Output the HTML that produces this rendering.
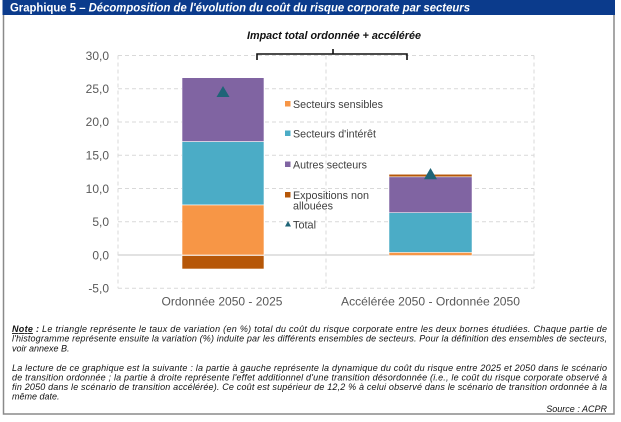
<!DOCTYPE html>
<html><head><meta charset="utf-8">
<style>
html,body{margin:0;padding:0;background:#fff;}
svg{display:block;}
text{font-family:"Liberation Sans",Arial,sans-serif;}
</style></head>
<body>
<svg width="621" height="422" viewBox="0 0 621 422" xmlns="http://www.w3.org/2000/svg">
<rect x="0" y="0" width="621" height="422" fill="#fff"/>
<!-- outer frame -->
<path d="M3.5 14 V414 H614 V14" fill="none" stroke="#8a8a8a" stroke-width="1.5"/>
<!-- header -->
<rect x="2.5" y="0" width="612.5" height="15" fill="#0b3b8c"/>
<text x="10" y="11.5" font-size="12" font-weight="bold" fill="#fff" textLength="460" lengthAdjust="spacingAndGlyphs">Graphique 5 – <tspan font-style="italic">Décomposition de l'évolution du coût du risque corporate par secteurs</tspan></text>

<!-- chart title -->
<text x="334" y="39" font-size="11" font-weight="bold" font-style="italic" fill="#111" text-anchor="middle" textLength="174" lengthAdjust="spacingAndGlyphs">Impact total ordonnée + accélérée</text>

<!-- gridlines -->
<g stroke="#d9d9d9" stroke-width="1" stroke-dasharray="4,3" fill="none">
<line x1="118" y1="55.5" x2="534" y2="55.5"/>
<line x1="118" y1="88.75" x2="534" y2="88.75"/>
<line x1="118" y1="122" x2="534" y2="122"/>
<line x1="118" y1="155.25" x2="534" y2="155.25"/>
<line x1="118" y1="188.5" x2="534" y2="188.5"/>
<line x1="118" y1="221.75" x2="534" y2="221.75"/>
<line x1="118" y1="288.25" x2="534" y2="288.25"/>
<line x1="118" y1="55.5" x2="118" y2="288.25"/>
<line x1="326" y1="55.5" x2="326" y2="288.25"/>
<line x1="534" y1="55.5" x2="534" y2="288.25"/>
</g>
<line x1="118" y1="255" x2="534" y2="255" stroke="#d9d9d9" stroke-width="1.5"/>

<!-- bracket -->
<path d="M257 60 V54 H333 V49 M333 54 H407 V60" fill="none" stroke="#111" stroke-width="1.6"/>

<!-- y labels -->
<g font-size="12" fill="#595959" text-anchor="end">
<text x="109" y="60">30,0</text>
<text x="109" y="93">25,0</text>
<text x="109" y="126">20,0</text>
<text x="109" y="159.5">15,0</text>
<text x="109" y="193">10,0</text>
<text x="109" y="226">5,0</text>
<text x="109" y="259.5">0,0</text>
<text x="109" y="292.5">-5,0</text>
</g>

<!-- bar 1 -->
<g stroke="#fff" stroke-width="0.6">
<rect x="182" y="77.7" width="82" height="64" fill="#8064A2"/>
<rect x="182" y="141.7" width="82" height="63.3" fill="#4BACC6"/>
<rect x="182" y="205" width="82" height="50" fill="#F79646"/>
<rect x="182" y="255.5" width="82" height="13.5" fill="#B65708"/>
</g>
<polygon points="223,86 229.5,97 216.5,97" fill="#1F6477"/>

<!-- bar 2 -->
<g stroke="#fff" stroke-width="0.5">
<rect x="389" y="174.3" width="83" height="2.6" fill="#B65708"/>
<rect x="389" y="176.9" width="83" height="35.8" fill="#8064A2"/>
<rect x="389" y="212.7" width="83" height="39.8" fill="#4BACC6"/>
<rect x="389" y="252.5" width="83" height="3" fill="#F79646"/>
</g>
<polygon points="430.5,168 437,179.3 424,179.3" fill="#1F6477"/>

<!-- legend -->
<rect x="285" y="101" width="5.5" height="5.5" fill="#F79646"/>
<rect x="285" y="130.5" width="5.5" height="5.5" fill="#4BACC6"/>
<rect x="285" y="161.5" width="5.5" height="5.5" fill="#8064A2"/>
<rect x="285" y="192" width="5.5" height="5.5" fill="#B65708"/>
<polygon points="288,221 291,226.5 285,226.5" fill="#1F6477"/>
<g font-size="11" fill="#404040">
<text x="293" y="108" textLength="90" lengthAdjust="spacingAndGlyphs">Secteurs sensibles</text>
<text x="293" y="137.5" textLength="83" lengthAdjust="spacingAndGlyphs">Secteurs d'intérêt</text>
<text x="293" y="168.5" textLength="74" lengthAdjust="spacingAndGlyphs">Autres secteurs</text>
<text x="293" y="199" textLength="76" lengthAdjust="spacingAndGlyphs">Expositions non</text>
<text x="293" y="209.7" textLength="40" lengthAdjust="spacingAndGlyphs">allouées</text>
<text x="293" y="228.3" textLength="23" lengthAdjust="spacingAndGlyphs">Total</text>
</g>

<!-- x labels -->
<g font-size="12" fill="#595959" text-anchor="middle">
<text x="222" y="305.5" textLength="121" lengthAdjust="spacingAndGlyphs">Ordonnée 2050 - 2025</text>
<text x="430.5" y="305.5" textLength="179" lengthAdjust="spacingAndGlyphs">Accélérée 2050 - Ordonnée 2050</text>
</g>

<!-- notes -->
<g font-size="9" font-style="italic" fill="#111">
<text x="12" y="332" textLength="595" lengthAdjust="spacing"><tspan font-weight="bold" text-decoration="underline">Note</tspan><tspan font-weight="bold"> :</tspan> Le triangle représente le taux de variation (en %) total du coût du risque corporate entre les deux bornes étudiées. Chaque partie de</text>
<text x="12" y="341.5" textLength="595" lengthAdjust="spacing">l'histogramme représente ensuite la variation (%) induite par les différents ensembles de secteurs. Pour la définition des ensembles de secteurs,</text>
<text x="12" y="351.5">voir annexe B.</text>
<text x="12" y="371" textLength="595" lengthAdjust="spacing">La lecture de ce graphique est la suivante : la partie à gauche représente la dynamique du coût du risque entre 2025 et 2050 dans le scénario</text>
<text x="12" y="380.5" textLength="595" lengthAdjust="spacing">de transition ordonnée ; la partie à droite représente l'effet additionnel d'une transition désordonnée (i.e., le coût du risque corporate observé à</text>
<text x="12" y="390" textLength="595" lengthAdjust="spacing">fin 2050 dans le scénario de transition accélérée). Ce coût est supérieur de 12,2 % à celui observé dans le scénario de transition ordonnée à la</text>
<text x="12" y="399.5">même date.</text>
<text x="607" y="412" text-anchor="end">Source : ACPR</text>
</g>
</svg>
</body></html>
